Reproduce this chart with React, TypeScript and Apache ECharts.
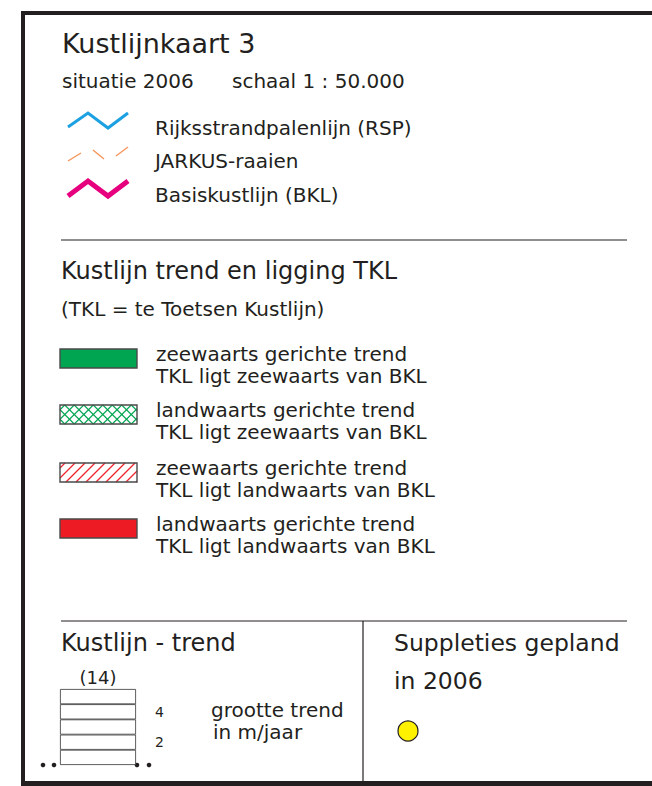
import { useEffect, useRef } from 'react';
import * as echarts from 'echarts';

// ---- content ----
const TITLE = 'Kustlijnkaart 3';
const SITUATIE = 'situatie 2006';
const SCHAAL = 'schaal 1 : 50.000';
const LINE_LABELS = ['Rijksstrandpalenlijn (RSP)', 'JARKUS-raaien', 'Basiskustlijn (BKL)'];
const SECTION_TITLE = 'Kustlijn trend en ligging TKL';
const SECTION_NOTE = '(TKL = te Toetsen Kustlijn)';
const TREND_DIRECTIONS = [
  'zeewaarts gerichte trend',
  'landwaarts gerichte trend',
  'zeewaarts gerichte trend',
  'landwaarts gerichte trend',
];
const TKL_POSITIONS = [
  'TKL ligt zeewaarts van BKL',
  'TKL ligt zeewaarts van BKL',
  'TKL ligt landwaarts van BKL',
  'TKL ligt landwaarts van BKL',
];
const TREND_TITLE = 'Kustlijn - trend';
const TREND_ROWS = ['1', '2', '3', '4', '5'];
const TREND_ROW_VALUES = [1, 1, 1, 1, 1];
const TREND_TICK_LABELS = ['2', '4'];
const TREND_CAP_LABEL = '(14)';
const TREND_UNIT = ['grootte trend', 'in m/jaar'];
const SUPPLETIES = ['Suppleties gepland', 'in 2006'];

// ---- styles ----
const INK = '#231f20';
const FONT = 'DejaVu Sans';
const GREEN = '#00a551';
const RED = '#ed1c24';

function txt(text: string, x: number, y: number, size: number, align: string = 'left') {
  return {
    type: 'text',
    x,
    y,
    silent: true,
    style: { text, fontSize: size, fontFamily: FONT, fill: INK, align, verticalAlign: 'middle' },
  };
}

function line(x1: number, y1: number, x2: number, y2: number, color: string, width: number) {
  return { type: 'line', silent: true, shape: { x1, y1, x2, y2 }, style: { stroke: color, lineWidth: width } };
}

function hatch(x0: number, y0: number, x1: number, y1: number, dir: number, step: number, color: string, width: number) {
  const out: any[] = [];
  if (dir > 0) {
    for (let c = x0 + y0 + step / 2; c < x1 + y1; c += step) {
      const xa = Math.max(x0, c - y1);
      const xb = Math.min(x1, c - y0);
      if (xb > xa) out.push(line(xa, c - xa, xb, c - xb, color, width));
    }
  } else {
    for (let c = x0 - y1 + step / 2; c < x1 - y0; c += step) {
      const xa = Math.max(x0, c + y0);
      const xb = Math.min(x1, c + y1);
      if (xb > xa) out.push(line(xa, xa - c, xb, xb - c, color, width));
    }
  }
  return out;
}

export default function App() {
  const ref = useRef<HTMLDivElement>(null);
  useEffect(() => {
    if (!ref.current) return;
    const chart = echarts.init(ref.current, null, { renderer: 'svg' });
    const g: any[] = [];

    // frame
    g.push(line(21, 13, 652, 13, INK, 4));
    g.push(line(23, 11, 23, 786, INK, 4));
    g.push(line(21, 783.5, 652, 783.5, INK, 5));

    // header
    g.push(txt(TITLE, 62, 43, 27));
    g.push(txt(SITUATIE, 62, 81, 20));
    g.push(txt(SCHAAL, 232, 81, 20));

    // line legend symbols
    g.push({
      type: 'polyline', silent: true,
      shape: { points: [[68, 127], [88, 113], [108, 128], [128, 113]] },
      style: { stroke: '#1ba1e2', lineWidth: 3, fill: null },
    });
    g.push(line(68, 161, 81, 153, '#f6955a', 1.4));
    g.push(line(93, 150, 104, 159, '#f6955a', 1.4));
    g.push(line(116, 156, 128, 147, '#f6955a', 1.4));
    g.push({
      type: 'polyline', silent: true,
      shape: { points: [[68, 196], [88, 181], [108, 196], [128, 181]] },
      style: { stroke: '#e6007e', lineWidth: 5, fill: null },
    });
    const lineY = [128, 161, 195];
    LINE_LABELS.forEach((l, i) => g.push(txt(l, 155, lineY[i], 20)));

    g.push(line(61, 240, 627, 240, INK, 1.2));
    g.push(txt(SECTION_TITLE, 61, 271, 24));
    g.push(txt(SECTION_NOTE, 61, 309, 20));

    // area legend
    const boxTop = [349, 405, 463, 519];
    const bx0 = 60, bx1 = 137, bh = 19;
    boxTop.forEach((t, i) => {
      const fill = i === 0 ? GREEN : i === 3 ? RED : '#fff';
      g.push({
        type: 'rect', silent: true,
        shape: { x: bx0, y: t, width: bx1 - bx0, height: bh },
        style: { fill, stroke: 'none' },
      });
      if (i === 1) {
        hatch(bx0, t, bx1, t + bh, 1, 9.5, GREEN, 1.1).forEach((e) => g.push(e));
        hatch(bx0, t, bx1, t + bh, -1, 9.5, GREEN, 1.1).forEach((e) => g.push(e));
      }
      if (i === 2) {
        hatch(bx0, t, bx1, t + bh, 1, 10, '#f0242c', 1.2).forEach((e) => g.push(e));
      }
      g.push({
        type: 'rect', silent: true,
        shape: { x: bx0, y: t, width: bx1 - bx0, height: bh },
        style: { fill: null, stroke: '#4a4a4a', lineWidth: 1.4 },
      });
      g.push(txt(TREND_DIRECTIONS[i], 156, t + 5, 20));
      g.push(txt(TKL_POSITIONS[i], 156, t + 27, 20));
    });

    g.push(line(61, 621, 627, 621, INK, 1.2));
    g.push(line(363, 621, 363, 781, INK, 1.2));

    // trend section
    g.push(txt(TREND_TITLE, 61, 643, 24));
    g.push(txt(TREND_CAP_LABEL, 98, 677, 18, 'center'));
    g.push(txt(TREND_UNIT[0], 211, 710, 20));
    g.push(txt(TREND_UNIT[1], 213, 732, 20));
    [43, 54, 137, 149].forEach((x) =>
      g.push({ type: 'circle', silent: true, shape: { cx: x, cy: 765, r: 2.3 }, style: { fill: INK } })
    );

    // suppleties
    g.push(txt(SUPPLETIES[0], 394, 643, 23.5));
    g.push(txt(SUPPLETIES[1], 394, 681, 23.5));
    g.push({
      type: 'circle', silent: true,
      shape: { cx: 408, cy: 731, r: 10 },
      style: { fill: '#fff200', stroke: INK, lineWidth: 1.2 },
    });

    chart.setOption({
      animation: false,
      backgroundColor: '#fff',
      grid: { left: 60, top: 689, width: 76, height: 76, containLabel: false, outerBoundsMode: 'none' },
      xAxis: { type: 'value', min: 0, max: 1, show: false },
      yAxis: {
        type: 'category',
        data: TREND_ROWS,
        position: 'right',
        axisLine: { show: false },
        axisTick: { show: false },
        splitLine: { show: false },
        axisLabel: {
          show: true,
          interval: 0,
          margin: 19,
          fontSize: 14,
          fontFamily: FONT,
          color: INK,
          formatter: (v: string) => (TREND_TICK_LABELS.includes(v) ? v : ''),
        },
      },
      series: [
        {
          type: 'bar',
          data: TREND_ROW_VALUES,
          barWidth: '100%',
          silent: true,
          itemStyle: { color: '#fff', borderColor: '#333', borderWidth: 0.8 },
        },
      ],
      graphic: g,
    });
    return () => chart.dispose();
  }, []);
  return (
    <div
      ref={ref}
      style={{ position: 'fixed', left: 0, top: 0, width: 652, height: 786, background: '#fff' }}
    />
  );
}
